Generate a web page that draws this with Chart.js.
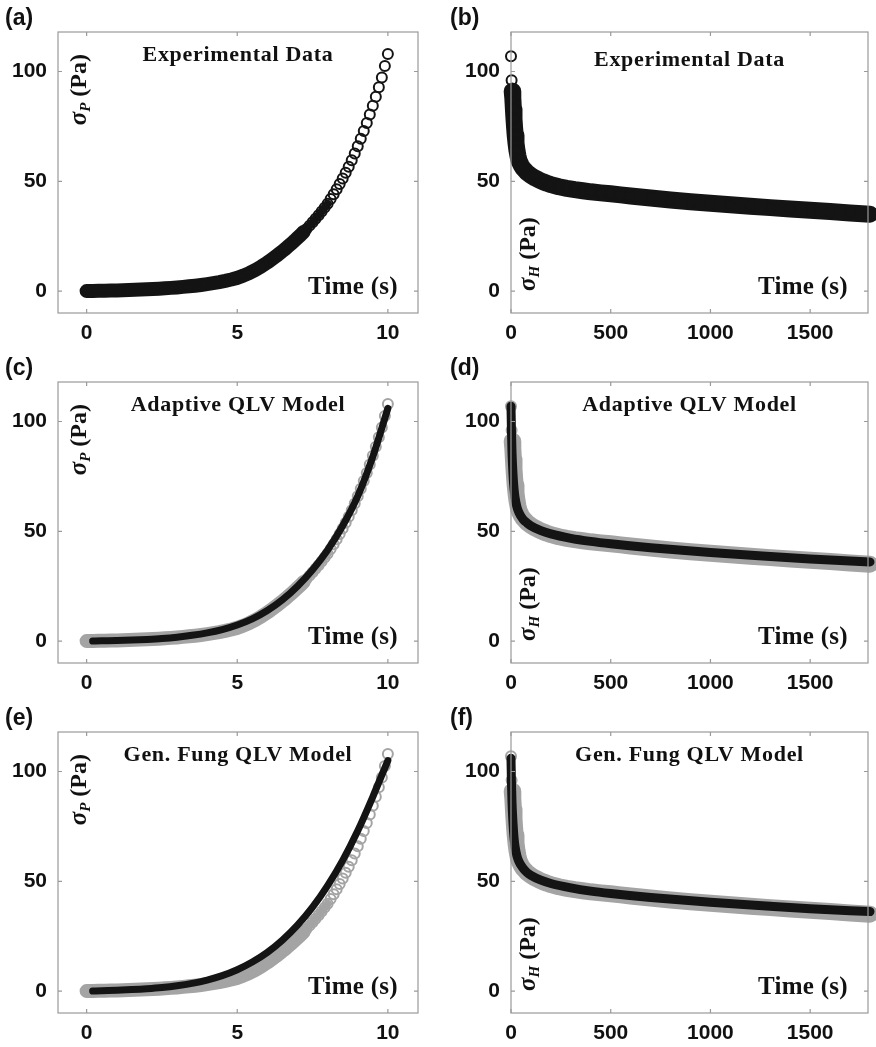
<!DOCTYPE html>
<html lang="en">
<head>
<meta charset="UTF-8">
<title>Ramp and hold: experiment vs QLV models</title>
<script src="https://cdn.jsdelivr.net/npm/chart.js"></script>
<style>
  body { margin: 0; background: #fff; }
  #grid { position: relative; width: 876px; height: 1047px; }
  canvas { position: absolute; }
</style>
</head>
<body>
<div id="grid">
  <canvas id="a" width="438" height="350" style="left:0;top:0"></canvas>
  <canvas id="b" width="438" height="350" style="left:438px;top:0"></canvas>
  <canvas id="c" width="438" height="350" style="left:0;top:350px"></canvas>
  <canvas id="d" width="438" height="350" style="left:438px;top:350px"></canvas>
  <canvas id="e" width="438" height="347" style="left:0;top:700px"></canvas>
  <canvas id="f" width="438" height="347" style="left:438px;top:700px"></canvas>
</div>
<script>
// ramp phase, stress sigma_P (Pa) vs time (s)
const rampTime = [0, 0.2, 0.4, 0.6, 0.8, 1, 1.2, 1.4, 1.6, 1.8, 2, 2.2, 2.4, 2.6, 2.8, 3, 3.2, 3.4, 3.6, 3.8,
  4, 4.2, 4.4, 4.6, 4.8, 5, 5.2, 5.4, 5.6, 5.8, 6, 6.1, 6.2, 6.3, 6.4, 6.5, 6.6, 6.7, 6.8, 6.9,
  7, 7.1, 7.2, 7.3, 7.4, 7.5, 7.6, 7.7, 7.8, 7.9, 8, 8.1, 8.2, 8.3, 8.4, 8.5, 8.6, 8.7, 8.8, 8.9,
  9, 9.1, 9.2, 9.3, 9.4, 9.5, 9.6, 9.7, 9.8, 9.9, 10];
const rampStress = [0, 0.06, 0.12, 0.18, 0.24, 0.3, 0.38, 0.46, 0.56, 0.68, 0.8, 0.94, 1.09, 1.26, 1.45, 1.65, 1.89, 2.16, 2.45, 2.78,
  3.15, 3.58, 4.07, 4.63, 5.27, 6.0, 7.0, 8.2, 9.6, 11.2, 13.0, 14.0, 15.0, 16.0, 17.1, 18.2, 19.3, 20.5, 21.7, 22.9,
  24.2, 25.5, 26.9, 28.3, 29.8, 31.3, 32.9, 34.5, 36.2, 38.0, 39.8, 41.9, 44.1, 46.4, 48.8, 51.3, 53.9, 56.6, 59.6, 62.7,
  66.0, 69.4, 72.9, 76.6, 80.4, 84.4, 88.5, 92.8, 97.3, 102.5, 108.0];

const modelRampTime = [0.2, 0.5, 1, 1.5, 2, 2.5, 3, 3.5, 4, 4.5, 5, 5.5, 6, 6.5, 7, 7.5, 8, 8.5, 9, 9.5, 10];
const adaptiveRamp = [0, 0.1, 0.25, 0.45, 0.75, 1.15, 1.75, 2.6, 3.7, 5.2, 7.3, 10.1, 13.9, 18.8, 25, 32.5, 41.5, 52.5, 66, 84, 106];
const fungRamp = [0, 0.15, 0.35, 0.65, 1.05, 1.6, 2.4, 3.5, 5.0, 7.0, 9.7, 13.2, 17.6, 23.2, 30, 38.2, 48, 59.5, 73, 88.5, 105];

// hold phase, stress sigma_H (Pa) vs time (s)
const holdTime = [0, 3, 6, 9, 12, 15, 18, 21, 25, 30, 35, 40, 50, 60, 70, 80, 100, 120, 140, 160, 180, 200,
  240, 280, 320, 360, 400, 450, 500, 550, 600, 700, 800, 900, 1000, 1100, 1200, 1300, 1400, 1500, 1600, 1700, 1800];
const holdStress = [107, 96, 91, 88, 83, 78.5, 74.5, 71, 67.5, 64, 61.5, 59.5, 57.5, 56, 55, 54, 52.6, 51.5, 50.6, 49.8, 49.1, 48.5,
  47.5, 46.8, 46.2, 45.7, 45.2, 44.7, 44.3, 43.8, 43.3, 42.4, 41.5, 40.7, 40.0, 39.3, 38.6, 38.0, 37.4, 36.8, 36.2, 35.6, 35.0];

const modelHoldTime = [0, 2, 5, 10, 15, 20, 30, 40, 60, 80, 100, 150, 200, 300, 400, 500, 700, 1000, 1300, 1500, 1800];
const adaptiveHold = [107, 97, 86, 76, 69.5, 65.5, 61, 58.5, 55.5, 53.8, 52.5, 50.3, 48.8, 46.8, 45.4, 44.3, 42.5, 40.3, 38.5, 37.4, 36];
const fungHold = [106, 96, 86, 76.5, 70, 66, 61.5, 59, 56, 54, 52.7, 50.5, 49, 47, 45.5, 44.4, 42.6, 40.4, 38.6, 37.5, 36.2];

const rampTicks = [0, 5, 10];
const holdTicks = [0, 500, 1000, 1500];
const stressTicks = [0, 50, 100];

const BLACK = '#141414';
const GREY = '#a4a4a4';

function pts(xs, ys) {
  return xs.map((x, i) => ({ x: x, y: ys[i] }));
}

// experimental points: circles, with a thick stroke where they pile up into a band
function expSet(xs, ys, color, ramp) {
  const w = i => {
    if (ramp) {
      const v = ys[i];
      return v < 28 ? 14 : v < 40 ? 8 : 0;
    }
    return i < 3 ? 0 : 17;
  };
  return {
    data: pts(xs, ys),
    showLine: true,
    borderColor: color,
    borderWidth: 12,
    borderCapStyle: 'round',
    borderJoinStyle: 'round',
    pointRadius: 5,
    pointBorderWidth: 2,
    pointBorderColor: color,
    pointBackgroundColor: 'rgba(0,0,0,0)',
    clip: false,
    segment: {
      borderWidth: ctx => w(ctx.p1DataIndex) || 1,
      borderColor: ctx => w(ctx.p1DataIndex) ? color : 'rgba(0,0,0,0)'
    }
  };
}

function modelSet(xs, ys, width) {
  return {
    data: pts(xs, ys),
    showLine: true,
    borderColor: BLACK,
    borderWidth: width,
    borderCapStyle: 'round',
    cubicInterpolationMode: 'monotone',
    pointRadius: 0,
    clip: false
  };
}

function drawYLabel(ctx, x, y, sub, anchorTop) {
  const parts = [
    { t: 'σ', f: 'italic bold 25px "Liberation Serif"', dy: 0 },
    { t: sub, f: 'italic bold 15px "Liberation Serif"', dy: 6 },
    { t: ' (Pa)', f: 'bold 24px "Liberation Serif"', dy: 0 }
  ];
  let w = 0;
  parts.forEach(p => { ctx.font = p.f; w += ctx.measureText(p.t).width; });
  ctx.save();
  ctx.translate(x, y);
  ctx.rotate(-Math.PI / 2);
  ctx.textAlign = 'left';
  ctx.textBaseline = 'middle';
  let cx = anchorTop ? -w : 0;
  parts.forEach(p => {
    ctx.font = p.f;
    ctx.fillText(p.t, cx, p.dy);
    cx += ctx.measureText(p.t).width;
  });
  ctx.restore();
}

const framePlugin = {
  id: 'frame',
  afterDraw(chart, args, o) {
    const { ctx, chartArea: a } = chart;
    const xs = chart.scales.x, ys = chart.scales.y;
    ctx.save();
    ctx.strokeStyle = '#9a9a9a';
    ctx.lineWidth = 1.2;
    ctx.strokeRect(a.left, a.top, a.right - a.left, a.bottom - a.top);
    ctx.beginPath();
    o.xt.forEach(v => {
      const px = xs.getPixelForValue(v);
      ctx.moveTo(px, a.bottom); ctx.lineTo(px, a.bottom - 4);
      ctx.moveTo(px, a.top); ctx.lineTo(px, a.top + 4);
    });
    stressTicks.forEach(v => {
      const py = ys.getPixelForValue(v);
      ctx.moveTo(a.left, py); ctx.lineTo(a.left + 4, py);
      ctx.moveTo(a.right, py); ctx.lineTo(a.right - 4, py);
    });
    ctx.stroke();

    ctx.fillStyle = '#111';
    // panel letter
    ctx.font = 'bold 23px "Liberation Sans"';
    ctx.textAlign = 'left';
    ctx.textBaseline = 'middle';
    ctx.fillText(o.letter, o.left ? 5 : 12, a.top - 13);

    // title inside the box
    ctx.font = 'bold 22px "Liberation Serif"';
    ctx.letterSpacing = '0.7px';
    ctx.textAlign = 'center';
    ctx.fillText(o.title, (a.left + a.right) / 2, a.top + 23 + (o.titleDy || 0));

    ctx.font = 'bold 25px "Liberation Serif"';
    ctx.letterSpacing = '0.3px';
    ctx.textAlign = 'right';
    ctx.fillText('Time (s)', a.right - 20, a.bottom - 25);
    ctx.letterSpacing = '0px';

    if (o.left) drawYLabel(ctx, a.left + 22, a.top + 22, 'P', true);
    else drawYLabel(ctx, a.left + 18, a.bottom - 22, 'H', false);
    ctx.restore();
  }
};

const tickFont = { family: '"Liberation Sans", Arial, sans-serif', size: 21, weight: 'bold' };

function makePanel(id, letter, title, left, datasets, axisH, titleDy) {
  const xt = left ? rampTicks : holdTicks;
  new Chart(document.getElementById(id), {
    type: 'scatter',
    data: { datasets: datasets },
    plugins: [framePlugin],
    options: {
      responsive: false,
      animation: false,
      devicePixelRatio: 1,
      layout: { padding: { top: 32, right: left ? 20 : 8, left: 0, bottom: 0 } },
      plugins: {
        legend: { display: false },
        tooltip: { enabled: false },
        frame: { letter: letter, title: title, left: left, xt: xt, titleDy: titleDy }
      },
      scales: {
        x: {
          type: 'linear',
          min: left ? -0.95 : 0,
          max: left ? 11 : 1790,
          afterBuildTicks: s => { s.ticks = xt.map(v => ({ value: v })); },
          afterFit: s => { s.height = axisH; },
          grid: { display: false, drawTicks: false },
          border: { display: false },
          ticks: { font: tickFont, color: '#111', padding: 8, maxRotation: 0, callback: v => String(v) }
        },
        y: {
          type: 'linear',
          min: -10,
          max: 118,
          afterBuildTicks: s => { s.ticks = stressTicks.map(v => ({ value: v })); },
          afterFit: s => { s.width = left ? 58 : 73; },
          grid: { display: false, drawTicks: false },
          border: { display: false },
          ticks: { font: tickFont, color: '#111', padding: 11, callback: v => String(v) }
        }
      }
    }
  });
}

makePanel('a', '(a)', 'Experimental Data', true,
  [expSet(rampTime, rampStress, BLACK, true)], 37);
makePanel('b', '(b)', 'Experimental Data', false,
  [expSet(holdTime, holdStress, BLACK, false)], 37, 5);
makePanel('c', '(c)', 'Adaptive QLV Model', true,
  [modelSet(modelRampTime, adaptiveRamp, 7), expSet(rampTime, rampStress, GREY, true)], 37);
makePanel('d', '(d)', 'Adaptive QLV Model', false,
  [modelSet(modelHoldTime, adaptiveHold, 9), expSet(holdTime, holdStress, GREY, false)], 37);
makePanel('e', '(e)', 'Gen. Fung QLV Model', true,
  [modelSet(modelRampTime, fungRamp, 7), expSet(rampTime, rampStress, GREY, true)], 34);
makePanel('f', '(f)', 'Gen. Fung QLV Model', false,
  [modelSet(modelHoldTime, fungHold, 9), expSet(holdTime, holdStress, GREY, false)], 34);
</script>
</body>
</html>
